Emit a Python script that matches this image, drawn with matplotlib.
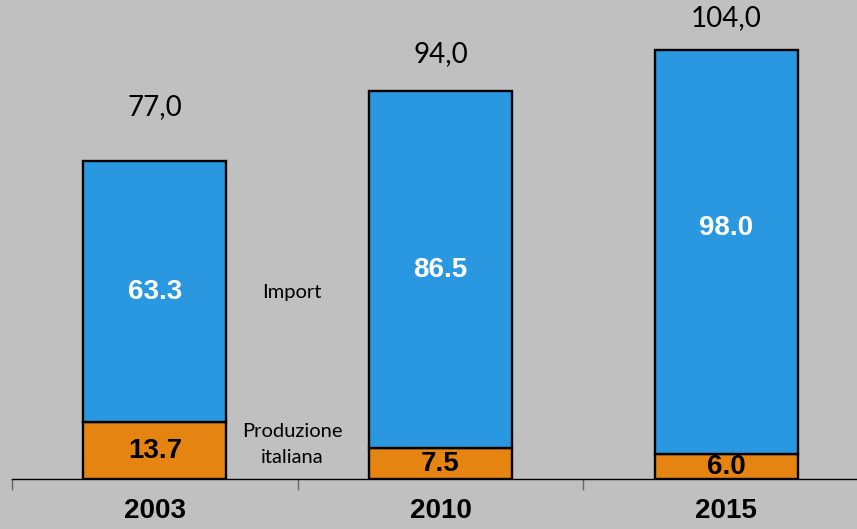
import matplotlib
matplotlib.use("Agg")
import matplotlib.pyplot as plt
import numpy as np

years = ["2003", "2010", "2015"]
produzione = [13.7, 7.5, 6.0]
importazioni = [63.3, 86.5, 98.0]
totali = [77.0, 94.0, 104.0]

BG = "#c0c0c0"
BLUE = "#2998e0"
ORANGE = "#e68412"

fig = plt.figure(figsize=(8.57, 5.29), dpi=100, facecolor=BG)
W, H = 857, 529
ax = fig.add_axes([12 / W, 50 / H, 857 / W, 479 / H], facecolor=BG)

x = np.arange(len(years))
width = 0.5
ax.bar(x, produzione, width, color=ORANGE, edgecolor="black", linewidth=1.7, zorder=3)
ax.bar(x, importazioni, width, bottom=produzione, color=BLUE, edgecolor="black",
       linewidth=1.7, zorder=3)

ax.set_xlim(-0.5, 2.5)
ax.set_ylim(0, 116.1)

for s in ["top", "left", "right"]:
    ax.spines[s].set_visible(False)
ax.spines["bottom"].set_linewidth(1.0)
ax.spines["bottom"].set_color("black")
ax.set_yticks([])

ax.set_xticks(x)
ax.set_xticklabels(years, fontsize=20, fontweight="bold", family="Liberation Sans")
ax.tick_params(axis="x", which="major", length=0, pad=14)
ax.set_xticks(np.arange(-0.5, 2.6, 1.0), minor=True)
ax.tick_params(axis="x", which="minor", length=8, width=1.0, color="#666666", direction="out")

# segment values
imp_dy = [0, 0, 24]
for i in range(len(years)):
    ax.text(x[i], produzione[i] / 2, f"{produzione[i]:.1f}", ha="center", va="center",
            fontsize=20, fontweight="bold", family="Liberation Sans", color="black", zorder=4)
    ax.annotate(f"{importazioni[i]:.1f}", (x[i], produzione[i] + importazioni[i] / 2),
                xytext=(0, imp_dy[i]), textcoords="offset pixels",
                ha="center", va="center", fontsize=20, fontweight="bold",
                family="Liberation Sans", color="white", zorder=4)

# totals above the bars
tot_dy = [54, 37, 32]
for i in range(len(years)):
    ax.annotate(f"{totali[i]:.1f}".replace(".", ","), (x[i], totali[i]),
                xytext=(0, tot_dy[i]), textcoords="offset pixels",
                ha="center", va="center", fontsize=20, family="Lato", color="black")

# series names between the first two bars
ax.text(0.48, 45.3, "Import", ha="center", va="center",
        fontsize=14.5, family="Lato", color="black")
ax.text(0.48, 8.4, "Produzione\nitaliana", ha="center", va="center",
        fontsize=14.5, family="Lato", color="black", linespacing=1.6)

fig.savefig("out.png", dpi=100, facecolor=BG)
